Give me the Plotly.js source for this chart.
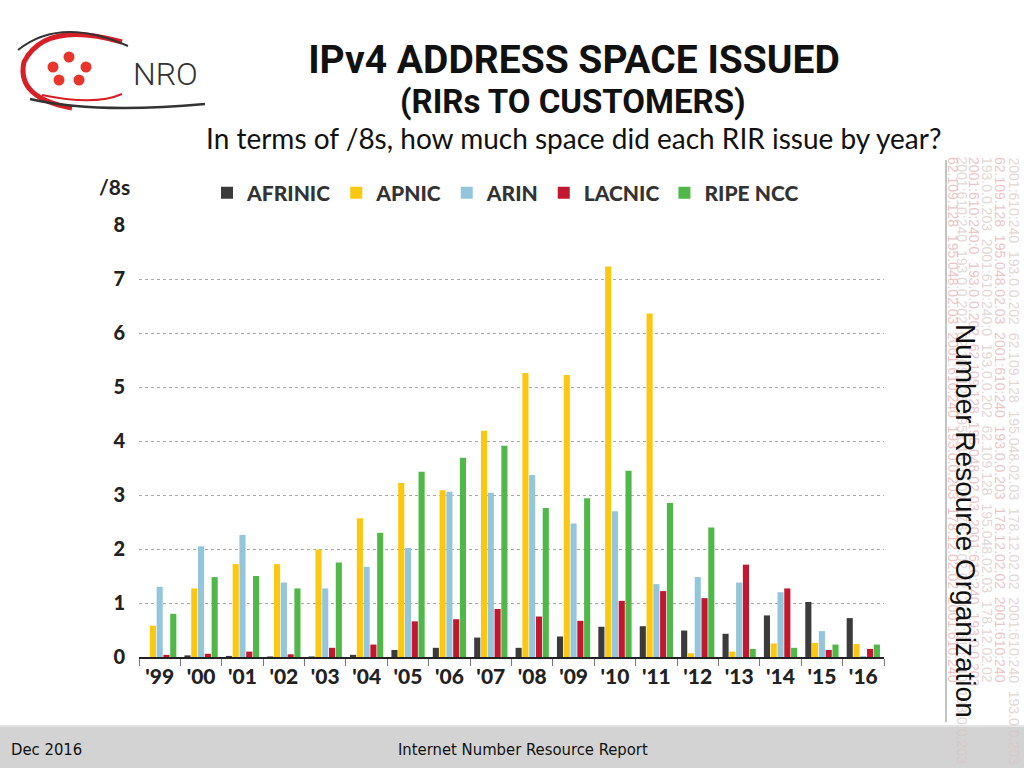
<!DOCTYPE html>
<html>
<head>
<meta charset="utf-8">
<script src="https://cdn.plot.ly/plotly-3.0.1.min.js"></script>
<style>
html,body{margin:0;padding:0;background:#fff;}
#chart{width:1024px;height:768px;}
</style>
</head>
<body>
<div id="chart"></div>
<script>
// ---- data ----
var years = ["'99","'00","'01","'02","'03","'04","'05","'06","'07","'08","'09","'10","'11","'12","'13","'14","'15","'16"];
var rirNames = ["AFRINIC","APNIC","ARIN","LACNIC","RIPE NCC"];
var afrinic = [0.00,0.03,0.02,0.01,0.01,0.04,0.13,0.17,0.36,0.17,0.38,0.56,0.57,0.49,0.43,0.77,1.02,0.72];
var apnic   = [0.58,1.27,1.72,1.72,1.99,2.57,3.22,3.09,4.19,5.26,5.22,7.23,6.36,0.07,0.10,0.25,0.26,0.24];
var arin    = [1.30,2.05,2.26,1.38,1.27,1.67,2.02,3.06,3.04,3.37,2.47,2.70,1.35,1.48,1.38,1.20,0.48,0.02];
var lacnic  = [0.04,0.06,0.10,0.05,0.17,0.23,0.66,0.70,0.89,0.75,0.67,1.04,1.22,1.09,1.71,1.27,0.13,0.15];
var ripe    = [0.80,1.48,1.50,1.27,1.75,2.30,3.43,3.69,3.91,2.76,2.94,3.45,2.85,2.40,0.15,0.17,0.23,0.23];
var yTicks  = [0,1,2,3,4,5,6,7,8];

var seriesVals = [afrinic, apnic, arin, lacnic, ripe];
var colors = ["#3b3b3b","#fcc80f","#93c6dc","#c1182f","#4fb848"];

// ---- layout geometry helpers (page pixels -> paper coords) ----
var ML=139, MR=140, MT=225, MB=111, W=1024, H=768;
var PW=W-ML-MR, PH=H-MT-MB;
function fx(x){return (x-ML)/PW;}
function fy(y){return (H-MB-y)/PH;}

var traces = rirNames.map(function(n,i){
  return {type:'bar', name:n, x:years, y:seriesVals[i],
    marker:{color:colors[i], line:{width:0}}, hoverinfo:'x+y+name'};
});

var boldFont = "Lato, 'Open Sans', sans-serif";

var shapes = [
  // footer band
  {type:'rect', xref:'paper', yref:'paper', x0:fx(-5), x1:fx(1030), y0:fy(726), y1:fy(775), fillcolor:'#d3d3d3', line:{width:0}, layer:'below'},
  {type:'line', xref:'paper', yref:'paper', x0:fx(-5), x1:fx(1030), y0:fy(726), y1:fy(726), line:{color:'#e4e4e4', width:2}},
  // right vertical rule
  {type:'line', xref:'paper', yref:'paper', x0:fx(946), x1:fx(946), y0:fy(160), y1:fy(722), line:{color:'#c4c4c4', width:2}},
  // logo swirl
  {type:'path', xref:'paper', yref:'paper',
   path:'M'+fx(122)+','+fy(42)+' Q'+fx(45)+','+fy(20)+' '+fx(24)+','+fy(62)+' Q'+fx(16)+','+fy(98)+' '+fx(72)+','+fy(108),
   line:{color:'#d61f26', width:5}},
  {type:'path', xref:'paper', yref:'paper',
   path:'M'+fx(128)+','+fy(46)+' Q'+fx(60)+','+fy(16)+' '+fx(18)+','+fy(50),
   line:{color:'#333', width:2}},
  {type:'path', xref:'paper', yref:'paper',
   path:'M'+fx(30)+','+fy(99)+' Q'+fx(95)+','+fy(114)+' '+fx(205)+','+fy(104),
   line:{color:'#333', width:2.5}},
  {type:'path', xref:'paper', yref:'paper',
   path:'M'+fx(42)+','+fy(95)+' Q'+fx(95)+','+fy(106)+' '+fx(122)+','+fy(94),
   line:{color:'#d61f26', width:2}}
];
var dots = [[69,57],[53,67],[86,67],[59,80],[79,80]];
dots.forEach(function(d){
  shapes.push({type:'circle', xref:'paper', yref:'paper', x0:fx(d[0]-5.5), x1:fx(d[0]+5.5), y0:fy(d[1]+5.5), y1:fy(d[1]-5.5), fillcolor:'#e8362c', line:{width:0}});
});

var ipText = ["2001:610:240  193.0.0.202  62.109.128  195.048.02.03  178.12.02.02  2001:610:240  193.0.0.203",
              "62.109.128  195.048.02.03  2001:610:240  193.0.0.203  178.12.02.02  2001:610:240",
              "193.0.0.203  2001:610:240:0  193.0.0.202  62.109.128  195.048.02.03  178.12.02.02",
              "2001:610:240:0  193.0.0.202  62.109.128  195.048.02.03  2001:610:240  193.0.0.203"];
var ipCols = [1014, 1000, 987, 974, 962, 953];

var annotations = [
  {xref:'paper', yref:'paper', x:fx(573), y:fy(101), text:'<b>(RIRs TO CUSTOMERS)</b>', showarrow:false,
   font:{family:"Roboto, sans-serif", size:33, color:'#111'}, xanchor:'center', yanchor:'middle'},
  {xref:'paper', yref:'paper', x:fx(573), y:fy(138), text:'In terms of /8s, how much space did each RIR issue by year?', showarrow:false,
   font:{family:"Lato, sans-serif", size:28, color:'#111'}, xanchor:'center', yanchor:'middle'},
  {xref:'paper', yref:'paper', x:fx(97), y:fy(187), text:'/8s', showarrow:false,
   font:{family:boldFont, size:21, color:'#222', weight:700}, xanchor:'left', yanchor:'middle'},
  {xref:'paper', yref:'paper', x:fx(131), y:fy(74), text:'NRO', showarrow:false,
   font:{family:"Roboto, sans-serif", size:32, color:'#333', weight:300}, xanchor:'left', yanchor:'middle'},
  {xref:'paper', yref:'paper', x:fx(9), y:fy(749), text:'Dec 2016', showarrow:false,
   font:{family:"'DejaVu Sans Condensed', 'Liberation Sans', sans-serif", size:16.5, color:'#111'}, xanchor:'left', yanchor:'middle'},
  {xref:'paper', yref:'paper', x:fx(523), y:fy(749), text:'Internet Number Resource Report', showarrow:false,
   font:{family:"'DejaVu Sans Condensed', 'Liberation Sans', sans-serif", size:16.5, color:'#111'}, xanchor:'center', yanchor:'middle'}
];
ipCols.forEach(function(cx, i){
  annotations.push({xref:'paper', yref:'paper', x:fx(cx), y:fy(155), text:ipText[i%ipText.length], showarrow:false,
    textangle:90, xanchor:'center', yanchor:'top',
    font:{family:"'Liberation Sans Narrow', 'Liberation Sans', sans-serif", size:14, color:(i%2? '#e3aeb0':'#d8c7c7')}, opacity:0.7});
});
annotations.push({xref:'paper', yref:'paper', x:fx(966), y:fy(521), text:'Number Resource Organization', showarrow:false,
  textangle:90, xanchor:'center', yanchor:'middle',
  font:{family:"'Liberation Sans', Arial, sans-serif", size:28, color:'#111'}});

var layout = {
  width:W, height:H,
  margin:{l:ML, r:MR, t:MT, b:MB, pad:0},
  paper_bgcolor:'#fff', plot_bgcolor:'#fff',
  barmode:'group', bargap:0.18, bargroupgap:0.1,
  title:{text:'<b>IPv4 ADDRESS SPACE ISSUED</b>', x:574/W, xanchor:'center', y:1-59/H, yanchor:'middle', yref:'container', xref:'container',
    font:{family:"Roboto, sans-serif", size:39, color:'#111'}},
  showlegend:true,
  legend:{orientation:'h', x:fx(207), y:fy(193), xanchor:'left', yanchor:'middle',
    font:{family:boldFont, size:21, color:'#333', weight:900}, itemwidth:30, traceorder:'normal',
    bgcolor:'rgba(0,0,0,0)'},
  xaxis:{type:'category', tickson:'boundaries', ticks:'outside', ticklen:7, tickcolor:'#777', tickwidth:1,
    showline:true, linecolor:'#222', linewidth:2, showgrid:false,
    tickfont:{family:boldFont, size:21, color:'#222', weight:900}, fixedrange:true},
  yaxis:{range:[0,8], tickvals:yTicks, showline:false, ticks:'', zeroline:false,
    showgrid:true, gridcolor:'#a8a8a8', gridwidth:1, griddash:'dot', ticklabelstandoff:13,
    tickfont:{family:boldFont, size:20, color:'#222', weight:900}, fixedrange:true},
  shapes:shapes,
  annotations:annotations
};

Plotly.newPlot('chart', traces, layout, {displayModeBar:false, staticPlot:true});
</script>
</body>
</html>
